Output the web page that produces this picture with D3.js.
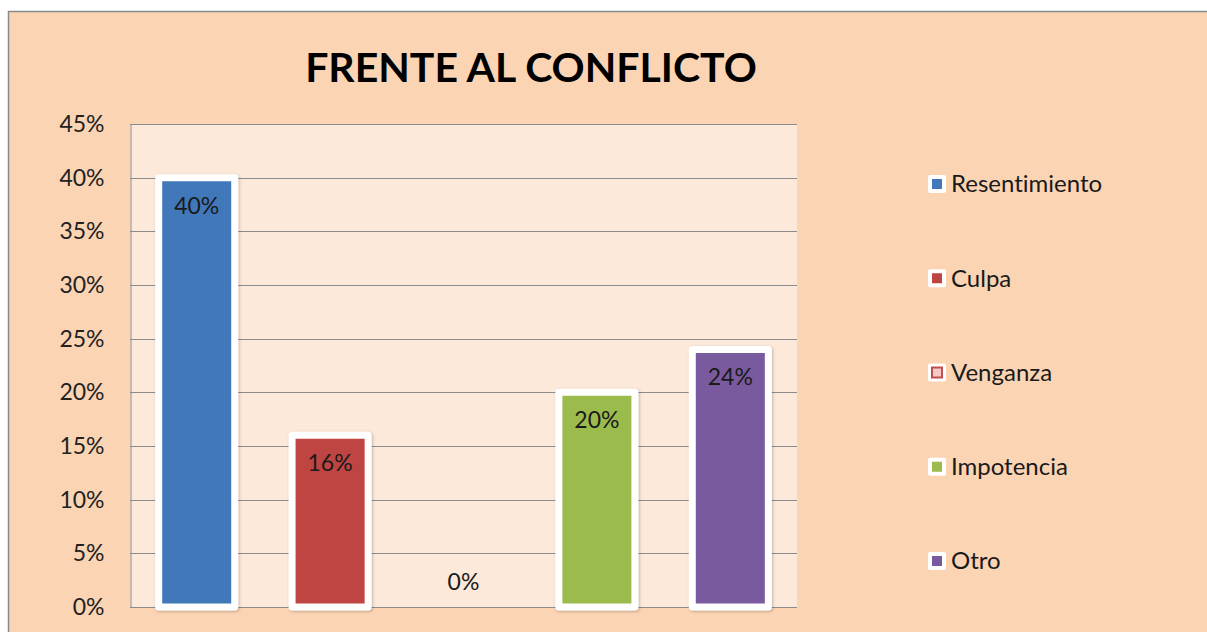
<!DOCTYPE html>
<html>
<head>
<meta charset="utf-8">
<script src="https://cdn.jsdelivr.net/npm/d3@7"></script>
<style>
  body { margin: 0; background: #fff; }
  svg { display: block; font-family: Lato, "Open Sans", sans-serif; font-variant-ligatures: none; }
</style>
</head>
<body>
<div id="chart"></div>
<script>
const categories = ['Resentimiento', 'Culpa', 'Venganza', 'Impotencia', 'Otro'];
const values = [0.40, 0.16, 0.00, 0.20, 0.24];
const colors = ['#4178BA', '#BE4442', '#C0504D', '#9BBB4D', '#7A5A9E'];
const yTicks = [0, 0.05, 0.10, 0.15, 0.20, 0.25, 0.30, 0.35, 0.40, 0.45];

const W = 1207, H = 632;
const m = { left: 130, right: 797, top: 124, bottom: 607 };

const svg = d3.select('#chart').append('svg').attr('width', W).attr('height', H);

const defs = svg.append('defs');
const shadow = defs.append('filter').attr('id', 'shadow')
  .attr('x', '-20%').attr('y', '-20%').attr('width', '140%').attr('height', '140%');
shadow.append('feDropShadow').attr('dx', 1).attr('dy', 1).attr('stdDeviation', 1.5)
  .attr('flood-color', '#000').attr('flood-opacity', 0.25);

// chart area background and border
svg.append('rect').attr('x', 8.5).attr('y', 11.5).attr('width', W + 10).attr('height', H + 10)
  .attr('fill', '#FBD4B4').attr('stroke', '#8a8a8a').attr('stroke-width', 1.5);

const x = d3.scaleBand().domain(categories).range([m.left, m.right]).paddingInner(0.43).paddingOuter(0.215);
const y = d3.scaleLinear().domain([0, 0.45]).range([m.bottom, m.top]);

// plot area
svg.append('rect').attr('x', m.left).attr('y', m.top)
  .attr('width', m.right - m.left).attr('height', m.bottom - m.top).attr('fill', '#FDE9D9');

// gridlines
svg.append('g').selectAll('line').data(yTicks).join('line')
  .attr('x1', m.left).attr('x2', m.right)
  .attr('y1', d => Math.round(y(d)) + 0.5).attr('y2', d => Math.round(y(d)) + 0.5)
  .attr('stroke', '#8c8c8c').attr('stroke-width', 1);

// y axis
const yAxis = d3.axisLeft(y).tickValues(yTicks).tickFormat(d3.format('.0%')).tickSize(0).tickPadding(26);
const ga = svg.append('g').attr('transform', `translate(${m.left + 0.5},0)`).call(yAxis);
ga.select('.domain').attr('stroke', '#8c8c8c');
ga.selectAll('text').attr('font-size', 23).attr('fill', '#222').attr('font-family', 'Lato');

// bars
svg.append('g').selectAll('rect').data(values).join('rect')
  .attr('x', (d, i) => x(categories[i]))
  .attr('y', d => y(d))
  .attr('width', x.bandwidth())
  .attr('height', d => y(0) - y(d))
  .attr('fill', (d, i) => colors[i])
  .attr('stroke', '#fff').attr('stroke-width', 7).attr('stroke-linejoin', 'round')
  .attr('filter', 'url(#shadow)')
  .attr('display', d => d > 0 ? null : 'none');

// data labels
svg.append('g').selectAll('text').data(values).join('text')
  .attr('x', (d, i) => x(categories[i]) + x.bandwidth() / 2)
  .attr('y', d => d > 0 ? y(d) + 28 : y(0) - 25)
  .attr('dy', '0.35em')
  .attr('text-anchor', 'middle')
  .attr('font-size', 23).attr('fill', '#1a1a1a')
  .text(d => d3.format('.0%')(d));

// title
svg.append('text').attr('x', 531).attr('y', 82).attr('text-anchor', 'middle')
  .attr('font-size', 41).attr('font-weight', 'bold').attr('fill', '#000')
  .text('FRENTE AL CONFLICTO');

// legend
const legendY = d3.scalePoint().domain(categories).range([184, 561]);
const lg = svg.append('g').selectAll('g').data(categories).join('g')
  .attr('transform', d => `translate(928,${legendY(d)})`);
lg.append('rect').attr('x', 0).attr('y', -9).attr('width', 18).attr('height', 18).attr('rx', 2)
  .attr('fill', '#fff');
lg.append('rect').attr('x', 4).attr('y', -5).attr('width', 10).attr('height', 10)
  .attr('fill', (d, i) => i === 2 ? '#F6C9C9' : colors[i])
  .attr('stroke', (d, i) => i === 2 ? colors[i] : 'none').attr('stroke-width', 2);
lg.append('text').attr('x', 23).attr('dy', '0.35em')
  .attr('font-size', 24).attr('fill', '#1a1a1a')
  .text(d => d);
</script>
</body>
</html>
